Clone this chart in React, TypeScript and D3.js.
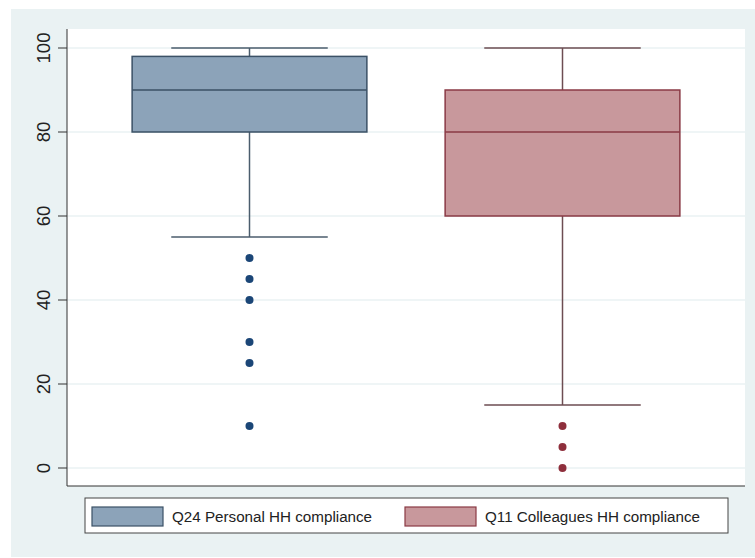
import React from "react";
import * as d3 from "d3";

const categories = ["Q24 Personal HH compliance", "Q11 Colleagues HH compliance"];
const q1 = [80, 60];
const median = [90, 80];
const q3 = [98, 90];
const whiskerLow = [55, 15];
const whiskerHigh = [100, 100];
const outliers = [
  [50, 45, 40, 30, 25, 10],
  [10, 5, 0],
];
const yTicks = [0, 20, 40, 60, 80, 100];

const fills = ["#8ca3b9", "#c8989c"];
const strokes = ["#3b5166", "#8a3a45"];
const whiskerColors = ["#4b5d6d", "#6d4d52"];
const dotColors = ["#1b4677", "#8e2f3c"];

export default function App() {
  const W = 755, H = 558;
  const plot = { left: 67, right: 745, top: 29, bottom: 486 };
  const y = d3.scaleLinear().domain([0, 100]).range([468, 48]);
  const x = d3.scaleBand<string>().domain(categories).range([93, 719]);
  const bw = x.bandwidth();
  const boxW = bw * 0.75;
  const capW = bw * 0.5;
  const font = "'Liberation Sans', Arial, sans-serif";

  return (
    <svg width={W} height={H} style={{ position: "absolute", left: 0, top: 0 }} fontFamily={font}>
      <rect x={0} y={0} width={W} height={H} fill="#ffffff" />
      <rect x={11} y={9} width={W - 11} height={H - 10} fill="#eaf2f3" />
      <rect x={plot.left} y={plot.top} width={plot.right - plot.left} height={plot.bottom - plot.top} fill="#ffffff" />
      {yTicks.map((t) => (
        <g key={t}>
          <line x1={plot.left} x2={plot.right} y1={y(t)} y2={y(t)} stroke="#eaf2f3" strokeWidth={1.5} />
          <line x1={58} x2={plot.left} y1={y(t)} y2={y(t)} stroke="#333" strokeWidth={1} />
          <text
            transform={`translate(49.5,${y(t)}) rotate(-90)`}
            textAnchor="middle"
            fontSize={18.5}
            fill="#222"
          >
            {t}
          </text>
        </g>
      ))}
      <line x1={plot.left} x2={plot.left} y1={plot.top} y2={plot.bottom} stroke="#333" strokeWidth={1} />
      <line x1={plot.left} x2={plot.right} y1={plot.bottom} y2={plot.bottom} stroke="#333" strokeWidth={1} />
      {categories.map((c, i) => {
        const cx = (x(c) as number) + bw / 2;
        return (
          <g key={c}>
            <line x1={cx} x2={cx} y1={y(q3[i])} y2={y(whiskerHigh[i])} stroke={whiskerColors[i]} strokeWidth={1.5} />
            <line x1={cx} x2={cx} y1={y(q1[i])} y2={y(whiskerLow[i])} stroke={whiskerColors[i]} strokeWidth={1.5} />
            <line x1={cx - capW / 2} x2={cx + capW / 2} y1={y(whiskerHigh[i])} y2={y(whiskerHigh[i])} stroke={whiskerColors[i]} strokeWidth={1.5} />
            <line x1={cx - capW / 2} x2={cx + capW / 2} y1={y(whiskerLow[i])} y2={y(whiskerLow[i])} stroke={whiskerColors[i]} strokeWidth={1.5} />
            <rect
              x={cx - boxW / 2}
              y={y(q3[i])}
              width={boxW}
              height={y(q1[i]) - y(q3[i])}
              fill={fills[i]}
              stroke={strokes[i]}
              strokeWidth={1.5}
            />
            <line x1={cx - boxW / 2} x2={cx + boxW / 2} y1={y(median[i])} y2={y(median[i])} stroke={strokes[i]} strokeWidth={1.5} />
            {outliers[i].map((v, j) => (
              <circle key={j} cx={cx} cy={y(v)} r={4} fill={dotColors[i]} />
            ))}
          </g>
        );
      })}
      <rect x={85} y={498} width={643} height={35} fill="#ffffff" stroke="#444" strokeWidth={1} />
      {categories.map((c, i) => {
        const sx = i === 0 ? 92 : 405;
        return (
          <g key={c}>
            <rect x={sx} y={507} width={71} height={19} fill={fills[i]} stroke={strokes[i]} strokeWidth={1.2} />
            <text x={sx + 80} y={522} fontSize={15.2} fill="#222">
              {c}
            </text>
          </g>
        );
      })}
    </svg>
  );
}
